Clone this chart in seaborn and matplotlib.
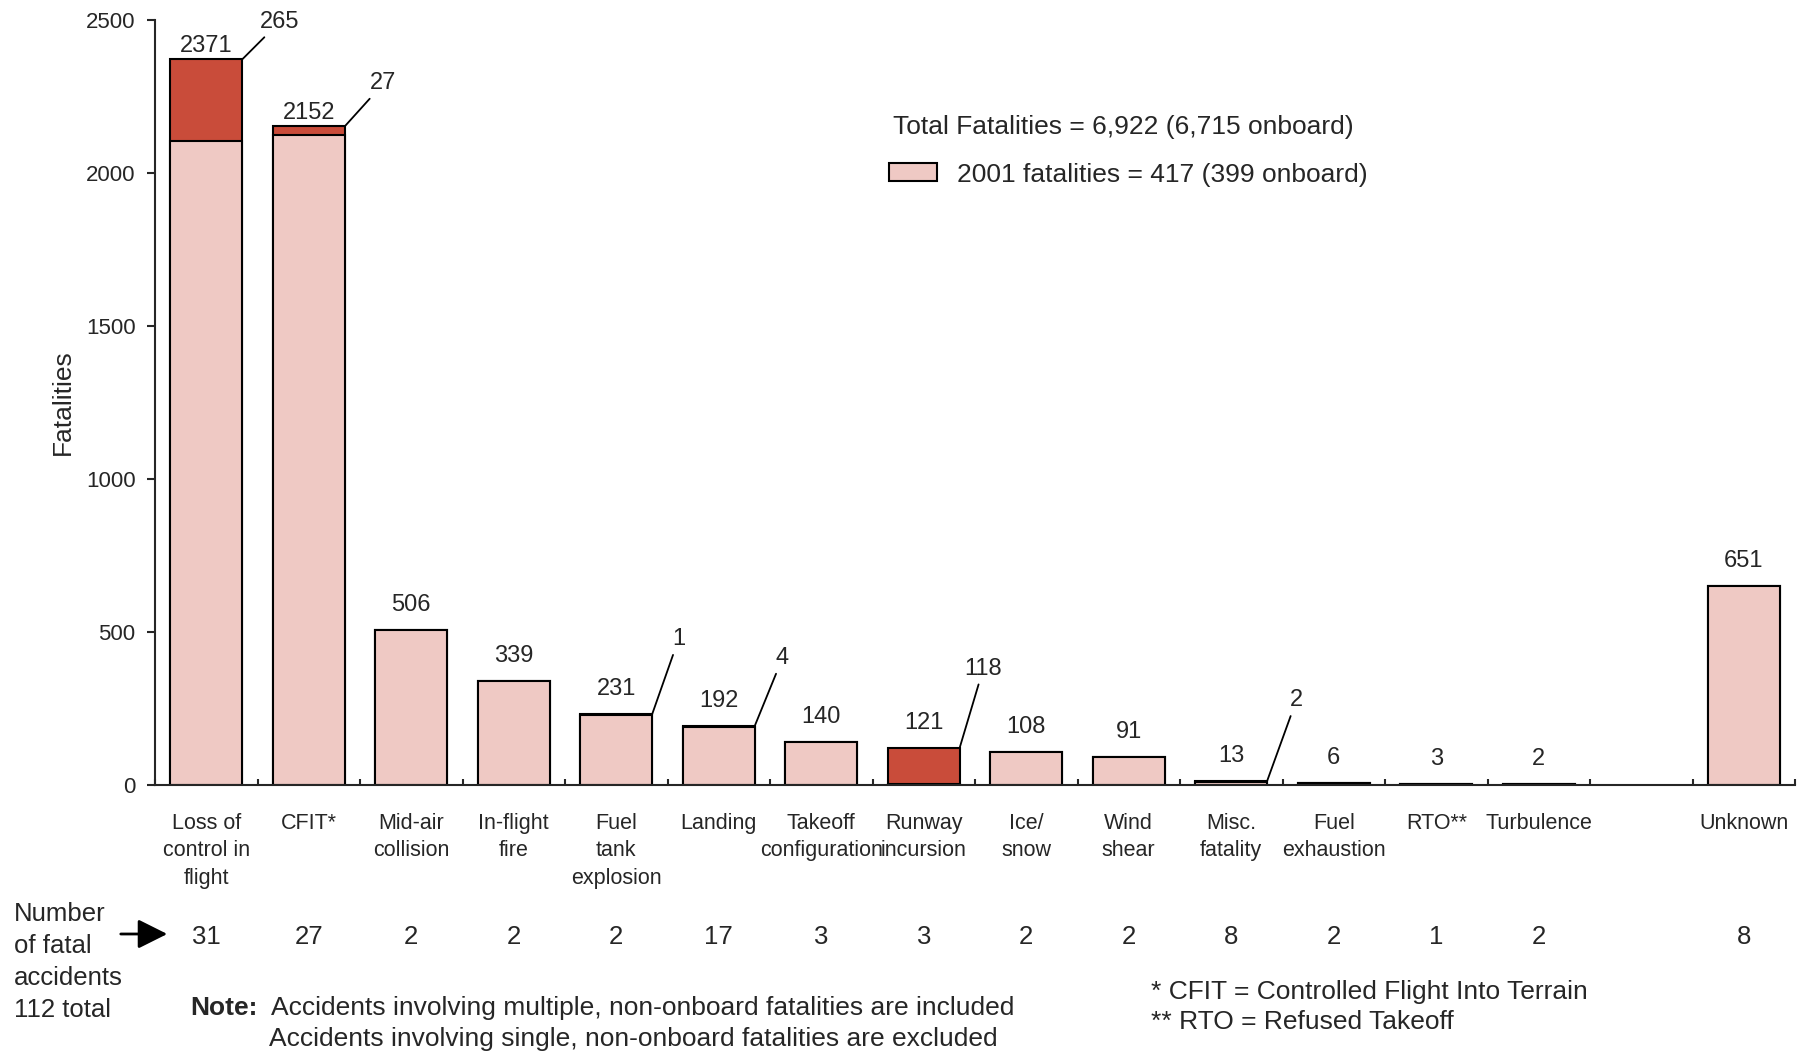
import numpy as np
import pandas as pd
import matplotlib
matplotlib.use("Agg")
import matplotlib.pyplot as plt
import matplotlib.transforms as mtransforms
from matplotlib.patches import Rectangle
import seaborn as sns

# Fatalities by accident category, with the 2001 share of each
categories = ["Loss of\ncontrol in\nflight", "CFIT*", "Mid-air\ncollision", "In-flight\nfire",
              "Fuel\ntank\nexplosion", "Landing", "Takeoff\nconfiguration", "Runway\nincursion",
              "Ice/\nsnow", "Wind\nshear", "Misc.\nfatality", "Fuel\nexhaustion", "RTO**",
              "Turbulence", "Unknown"]
total_fatalities = [2371, 2152, 506, 339, 231, 192, 140, 121, 108, 91, 13, 6, 3, 2, 651]
fatalities_2001 = [265, 27, 0, 0, 1, 4, 0, 118, 0, 0, 2, 0, 0, 0, 0]
fatal_accidents = [31, 27, 2, 2, 2, 17, 3, 3, 2, 2, 8, 2, 1, 2, 8]
y_ticks = [0, 500, 1000, 1500, 2000, 2500]

PINK = "#EFC9C4"
RED = "#C94C3A"

sns.set_style("ticks")
plt.rcParams["font.family"] = ["Liberation Sans", "DejaVu Sans"]

df = pd.DataFrame({
    "category": categories,
    "total": total_fatalities,
    "recent": fatalities_2001,
    "accidents": fatal_accidents,
})
df["earlier"] = df["total"] - df["recent"]

# an empty slot sits between Turbulence and Unknown
order = categories[:14] + [" "] + categories[14:]

W, H = 1803, 1054
fig = plt.figure(figsize=(W / 100, H / 100), dpi=100)
ax = fig.add_axes([155 / W, 1 - 785 / H, 1640 / W, 765 / H])

bar_kw = dict(order=order, width=0.7, saturation=1, edgecolor="black",
              linewidth=1.5, errorbar=None, ax=ax)
# full-height bars in red, then the pre-2001 part in pink over them
sns.barplot(data=df, x="category", y="total", color=RED, **bar_kw)
sns.barplot(data=df, x="category", y="earlier", color=PINK, **bar_kw)

ax.set_xlim(-0.5, len(order) - 0.5)
ax.set_ylim(0, 2500)
ax.set_yticks(y_ticks)
ax.set_yticklabels([str(t) for t in y_ticks], fontsize=16)
ax.tick_params(axis="y", direction="out", length=6, width=1.5, pad=8)
ax.set_xticks(range(len(order)))
ax.set_xticklabels(order, fontsize=15.5, linespacing=1.4)
ax.tick_params(axis="x", which="major", length=0, pad=20)
ax.set_xticks(np.arange(-0.5, len(order), 1), minor=True)
ax.tick_params(axis="x", which="minor", direction="in", length=4, width=1.5)
ax.set_xlabel("")
ax.set_ylabel("Fatalities", fontsize=19)
ax.yaxis.set_label_coords(-0.049, 0.5)
for s in ["top", "right"]:
    ax.spines[s].set_visible(False)
for s in ["left", "bottom"]:
    ax.spines[s].set_linewidth(1.5)
ax.grid(False)

# total labels above each bar
for name, tot in zip(categories, total_fatalities):
    i = order.index(name)
    lift = 10 if tot > 2000 else 18
    ax.annotate(str(tot), xy=(i, tot), xytext=(0, lift), textcoords="offset points",
                ha="center", va="center", fontsize=17)

# 2001 values with leader lines from the bar's top-right corner
leader_offsets = {0: (27, 27), 1: (28, 31), 4: (19, 54), 5: (20, 49), 7: (17, 57), 10: (21, 58)}
for k, (dx, dy) in leader_offsets.items():
    i = order.index(categories[k])
    ax.annotate(str(fatalities_2001[k]), xy=(i + 0.35, total_fatalities[k]),
                xytext=(dx, dy), textcoords="offset points", ha="center", va="center",
                fontsize=17,
                arrowprops=dict(arrowstyle="-", lw=1.3, color="black", shrinkA=1, shrinkB=0))

# number of fatal accidents under each category
row = mtransforms.blended_transform_factory(ax.transData, fig.transFigure)
for name, n in zip(categories, fatal_accidents):
    ax.text(order.index(name), 1 - 937 / H, str(n), transform=row,
            ha="center", va="center", fontsize=18.5)

fig.text(14 / W, 1 - 902 / H, "Number\nof fatal\naccidents\n112 total",
         ha="left", va="top", fontsize=18.5, linespacing=1.42)
ax.annotate("", xy=(170, H - 934), xytext=(118, H - 934), xycoords="figure pixels",
            textcoords="figure pixels",
            arrowprops=dict(arrowstyle="-|>,head_length=0.9,head_width=0.45",
                            mutation_scale=20, lw=2, color="black"))

# notes
fig.text(190 / W, 1 - 1008 / H, "Note:", fontsize=19, fontweight="bold", va="center")
fig.text(271 / W, 1 - 1008 / H, "Accidents involving multiple, non-onboard fatalities are included",
         fontsize=19, va="center")
fig.text(269 / W, 1 - 1039 / H, "Accidents involving single, non-onboard fatalities are excluded",
         fontsize=19, va="center")
fig.text(1151 / W, 1 - 992 / H, "* CFIT = Controlled Flight Into Terrain", fontsize=19, va="center")
fig.text(1151 / W, 1 - 1022 / H, "** RTO = Refused Takeoff", fontsize=19, va="center")

# legend block
fig.text(893 / W, 1 - 127 / H, "Total Fatalities = 6,922 (6,715 onboard)",
         fontsize=19, va="center")
fig.add_artist(Rectangle((889 / W, 1 - 180.5 / H), 48 / W, 17.5 / H,
                         facecolor=PINK, edgecolor="black", linewidth=1.5,
                         transform=fig.transFigure))
fig.text(957 / W, 1 - 175 / H, "2001 fatalities = 417 (399 onboard)",
         fontsize=19, va="center")

fig.savefig("out.png", dpi=100)
